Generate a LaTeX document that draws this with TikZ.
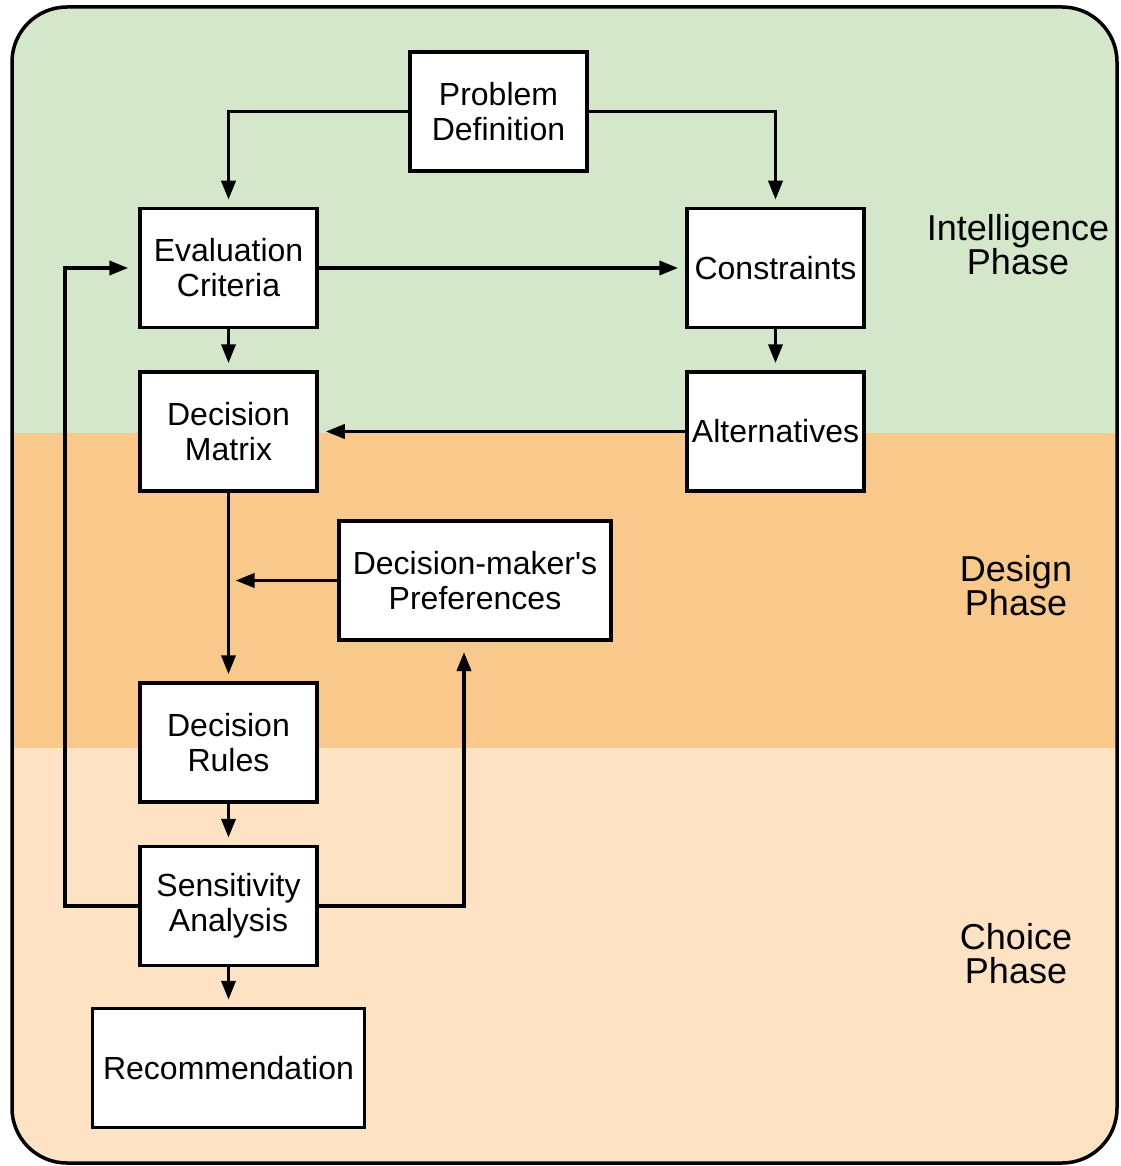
\documentclass[tikz,border=0pt]{standalone}
\usepackage{fontspec}
\setmainfont{Liberation Sans}
\usetikzlibrary{arrows.meta}
\definecolor{intel}{HTML}{D5E7CB}
\definecolor{design}{HTML}{F9C98B}
\definecolor{choice}{HTML}{FDE3C4}
\begin{document}
\begin{tikzpicture}[x=1pt,y=-1pt,
  box/.style={draw=black,line width=3.5pt,fill=white,minimum width=177pt,minimum height=119pt,inner sep=0pt,align=center,font=\fontsize{32}{35}\selectfont},
  widebox/.style={box,minimum width=272pt},
  phase/.style={align=center,font=\fontsize{36}{34}\selectfont},
  conn/.style={line width=3.7pt,-{Triangle[length=19pt,width=14pt]},shorten >=7pt}]
\useasboundingbox (0,0) rectangle (1120,1166);
\begin{scope}
  \clip[rounded corners=55pt] (12,7) rectangle (1117,1163);
  \fill[intel] (0,0) rectangle (1120,433);
  \fill[design] (0,433) rectangle (1120,748);
  \fill[choice] (0,748) rectangle (1120,1166);
\end{scope}
\draw[line width=3.5pt,rounded corners=55pt] (12,7) rectangle (1117,1163);

\node[box] (pd) at (498.5,111.5) {Problem\\Definition};
\node[box] (ec) at (228.5,268) {Evaluation\\Criteria};
\node[box] (co) at (775.5,268) {Constraints};
\node[box] (dm) at (228.5,431.5) {Decision\\Matrix};
\node[box] (al) at (775.5,431.5) {Alternatives};
\node[widebox] (pr) at (475,580.5) {Decision-maker\textquotesingle s\\Preferences};
\node[box] (dr) at (228.5,742.5) {Decision\\Rules};
\node[box] (sa) at (228.5,906) {Sensitivity\\Analysis};
\node[widebox] (re) at (228.5,1068) {Recommendation};

\node[phase] (ip) at (1018,245) {Intelligence\\Phase};
\node[phase] (dp) at (1016,586) {Design\\Phase};
\node[phase] (cp) at (1016,954) {Choice\\Phase};

\coordinate (loopL) at (65,600);
\coordinate (prIn) at (464,641);

\draw[conn] (pd.west) -| (ec.north);
\draw[conn] (pd.east) -| (co.north);
\draw[conn] (ec.east) -- (co.west);
\draw[conn] (ec.south) -- (dm.north);
\draw[conn] (co.south) -- (al.north);
\draw[conn] (al.west) -- (dm.east);
\draw[conn] (dm.south) -- (dr.north);
\draw[conn] (pr.west) -- (dm.south |- pr.west);
\draw[conn] (dr.south) -- (sa.north);
\draw[conn] (sa.south) -- (re.north);
\draw[conn,shorten >=10pt] (sa.west) -| (loopL) |- (ec.west);
\draw[conn,shorten >=11pt] (sa.east) -| (prIn);
\end{tikzpicture}
\end{document}
